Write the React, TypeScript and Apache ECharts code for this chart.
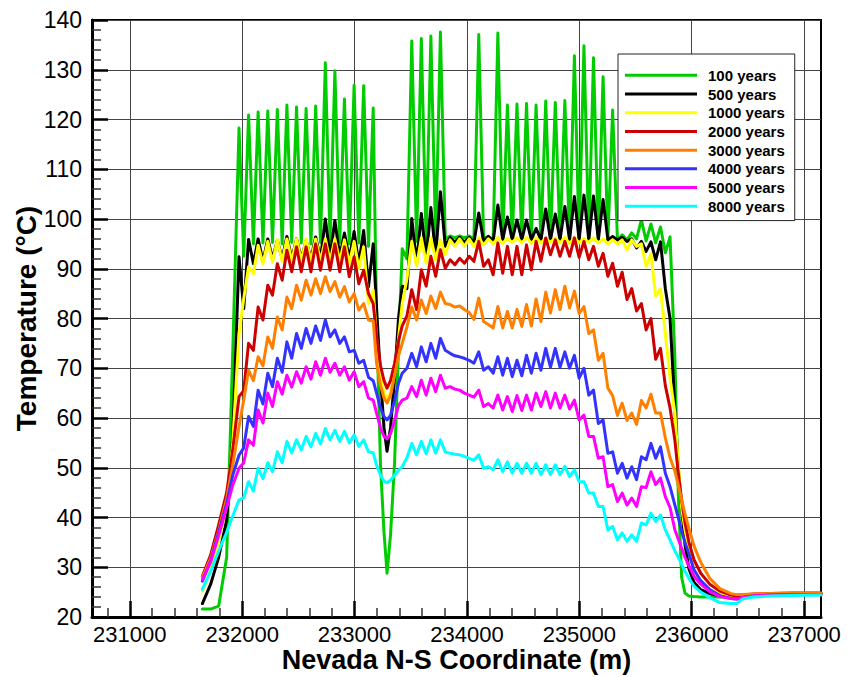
import { useEffect, useRef } from "react";
import * as echarts from "echarts";

const FONT = "'Liberation Sans', Arial, Helvetica, sans-serif";

// Nevada N-S coordinate (m) of each sample point
const coordinate = [
  231646, 231720, 231791, 231862, 231916,
  231972, 232014, 232057, 232100, 232142, 232185, 232228, 232270, 232313, 232356,
  232398, 232441, 232484, 232526, 232569, 232612, 232654, 232697, 232740, 232782,
  232825, 232868, 232910, 232953, 232996, 233038, 233081, 233124, 233166,
  233196, 233231, 233262, 233289, 233320, 233356, 233391,
  233424, 233466, 233509, 233552, 233594, 233637, 233679, 233722, 233764, 233807,
  233850, 233892, 233935, 233977, 234020, 234062, 234105, 234148, 234190, 234233,
  234275, 234318, 234360, 234403, 234445, 234488, 234530, 234573, 234615, 234658,
  234701, 234743, 234786, 234828, 234871, 234913, 234956, 234998, 235041, 235084,
  235126, 235169, 235211, 235254, 235296, 235339, 235381, 235424, 235466, 235509,
  235552, 235594, 235637, 235679, 235722, 235765, 235807,
  235850, 235880, 235910, 235940, 235975, 236020, 236080, 236160, 236250, 236350,
  236400, 236450, 236550, 236700, 236900, 237150,
];

const temp100 = [
  21.6, 21.6, 22.2, 32, 73,
  118.3, 92.5, 120.9, 95, 121.5, 95.2, 121.7, 95.3, 122, 95, 122.9, 95.3, 122.5, 95.2, 122.2,
  95, 122.7, 95.3, 131.4, 95.5, 129.8, 95.3, 124.1, 95, 126.9, 95.2, 126.8, 94.5, 122.3,
  80, 50.5, 37, 28.8, 36.5, 51, 74,
  94, 92, 135.8, 95.5, 136.3, 95.5, 136.8, 95.6, 137.6, 96, 96.6, 96.2, 96.6, 96.2, 96.6, 96,
  137.1, 96, 96.5, 95.8, 137.4, 95.8, 122.9, 95.8, 123.1, 95.8, 123.2, 95.8, 122.9, 95.8,
  123.7, 95.8, 123.4, 95.8, 123.8, 95.8, 132.8, 95.8, 134.8, 95.8, 132.4, 95.8, 128.6, 95.8,
  121.9, 95.8, 96.8, 95.8, 97.2, 96, 99.8, 95.6, 99, 95.2, 98.4, 93.2, 96.4,
  72, 45, 28, 24.8, 24.2, 24.1, 24.0, 24.0, 24.0, 24.0, 24.1, 24.2, 24.4, 24.5, 24.6, 24.7,
];

const temp500 = [
  22.7, 26.6, 32, 39.5, 56,
  92.4, 82, 95.9, 91, 96, 91.5, 96, 92, 95.7, 92, 96.5, 92, 96, 92, 95.7,
  92, 96.4, 92, 100, 92.5, 99.7, 92.5, 97.2, 92, 97.5, 91, 97.7, 86.4, 95,
  82, 68, 58, 53.3, 58, 68, 80,
  86.5, 86, 100.1, 91, 101.1, 92, 102.3, 92.5, 105.5, 94.5, 96.3, 95.3, 96.3, 95.3, 96.3, 95.3,
  101.2, 95.5, 96.5, 95.5, 102.8, 95.8, 100.4, 95.8, 99.8, 95.8, 99.8, 95.8, 98.1, 95.8,
  102, 95.8, 101, 95.8, 102.5, 95.8, 104.5, 95.8, 104.8, 95.8, 104.6, 95.8, 103.9, 95.8,
  96.5, 95.8, 96.3, 95.5, 96, 94.2, 95.5, 93.5, 95.4, 91.8, 95.4, 86, 80,
  62, 50, 42, 34.5, 29.7, 27, 25.5, 24.7, 24.2, 23.9, 23.9, 24.0, 24.3, 24.5, 24.6, 24.7,
];

const temp1000 = [
  25.2, 29.5, 35.3, 42.5, 55,
  77, 84, 90.4, 89, 94.7, 91, 95.5, 91.3, 95.8, 91.5, 96, 91.5, 96, 91.5, 96,
  91.5, 96, 91.5, 96, 91.5, 96, 91.5, 95.8, 91, 95.5, 90, 94.4, 83, 85.7,
  76, 68.5, 65, 64, 65, 69, 76,
  83, 88, 95.5, 90.5, 96.2, 91.1, 96.2, 91.8, 95.8, 92.8, 95.8, 94.5, 96, 94.5, 96, 94.5,
  96.2, 94.8, 96, 95, 96.3, 95.1, 96.1, 95.3, 96.2, 95.2, 96.3, 95.1, 96.2, 95.2,
  96.1, 95.3, 96.2, 95.2, 96.3, 95.1, 96.2, 95.2, 96.1, 95.3, 96.2, 95.2, 96, 95,
  95.8, 95, 95.8, 93.8, 95.8, 94.5, 95, 90.5, 93, 84.5, 86, 77, 68,
  61, 51, 42, 37.5, 33.5, 29.5, 27, 25.5, 24.8, 24.3, 24.1, 24.2, 24.4, 24.5, 24.6, 24.7,
];

const temp2000 = [
  28.2, 32.5, 38.5, 45, 53.5,
  64.3, 65.5, 75, 73.6, 82.3, 79.7, 86.7, 84.7, 91, 87.7, 93.7, 89.4, 94.4, 89.4, 94.4,
  89.4, 95, 89.7, 95, 89.7, 95, 89.4, 94.4, 88.4, 92.4, 87, 89.7, 85, 83,
  76.5, 70.5, 67.5, 66, 67.5, 71, 75.5,
  78.5, 80.5, 85.8, 81.8, 89.8, 86.5, 92.5, 88.5, 93.8, 90.1, 91.8, 90.8, 92.1, 91.1, 92.5, 91.5,
  95.5, 90.5, 91.8, 88.8, 95.2, 89.1, 94.5, 88.8, 94.5, 88.8, 94.8, 89.8, 95.5, 91.5,
  96.2, 92.8, 95.8, 92.5, 95.5, 92.5, 96.2, 92.3, 95.5, 91.8, 94.5, 90.5, 93.1, 88.5,
  91.1, 86.5, 89.3, 83.8, 86, 81.5, 83, 77.7, 80, 71.8, 74, 66.5, 62,
  55.5, 49, 43.5, 39, 35, 31.5, 28.8, 26.6, 25.2, 24.4, 24.2, 24.4, 24.6, 24.7, 24.8, 24.8,
];

const temp3000 = [
  27.9, 31.8, 37.3, 43.7, 50.5,
  58.3, 63.6, 69.6, 67.5, 72.3, 70.5, 76.3, 74, 80.3, 77.7, 84.3, 82, 86.7, 83.7, 87.7,
  84.7, 88, 85, 88.4, 85.4, 87.4, 84.3, 86.4, 83.3, 85, 81.7, 83, 79.7, 79.5,
  71, 66.5, 64, 63, 64.5, 68.5, 72.5,
  75, 78.3, 82.3, 79.7, 83.7, 81, 84.5, 82, 85.3, 83, 82.8, 82.3, 82.5, 81.8, 81.2, 79.8,
  84.1, 79.4, 78.8, 78.1, 82.4, 78.1, 81.4, 78.1, 81.8, 78.4, 82.8, 78.5, 83.9, 79.4,
  85.3, 81.1, 85.8, 81.8, 86.5, 82.1, 85.5, 81, 82.4, 77, 77.7, 71.6, 73, 66,
  64.5, 60.5, 63, 59.5, 61, 58.7, 63.5, 62, 64.8, 61, 61, 56, 52,
  49.3, 46.5, 43.6, 40.7, 37.8, 34.3, 31, 27.8, 25.7, 24.7, 24.5, 24.5, 24.6, 24.7, 24.8, 24.8,
];

const temp4000 = [
  27.2, 31.3, 37, 42.8, 48.5,
  52.5, 54, 60.3, 58.3, 65.6, 62.8, 69, 66.3, 72, 69.2, 75.3, 72, 77, 74, 78,
  75, 78.5, 75.6, 79.7, 76.3, 77.7, 75, 76.3, 73.3, 73.6, 71, 71.6, 68.2, 67.5,
  65, 62, 60.3, 59.6, 60.5, 63.5, 67,
  69, 70, 73, 70.3, 74.3, 71.3, 75, 72, 76, 73.6, 73, 72.5, 72.3, 72, 71.6, 71,
  73.3, 69.6, 70.3, 69, 72.3, 68.6, 72, 68.3, 71.6, 68.5, 72.6, 69, 73, 69.6,
  74, 70.2, 74, 70.2, 73.3, 70, 72.6, 68, 70, 64.6, 65.6, 58.9, 59.6, 52.9,
  53.2, 48.9, 50.9, 47.9, 50.2, 47.6, 52.2, 51.6, 54.9, 51.9, 54.2, 48.9, 46.2,
  42.5, 40, 37.2, 35, 32.7, 29.5, 27.3, 25.5, 24.3, 23.7, 23.6, 23.9, 24.2, 24.4, 24.5, 24.5,
];

const temp5000 = [
  27.5, 31.1, 36.4, 42, 46.5,
  49.9, 51, 55.6, 54.5, 61.6, 59, 65, 62.3, 67.3, 64.8, 68.6, 66.2, 69.3, 67, 70.3,
  67.8, 71.3, 68.6, 72, 69.2, 71, 68.6, 70.3, 67.6, 69.3, 66.3, 67.3, 64, 63.6,
  61, 58, 56.3, 55.8, 56.8, 59.5, 62.5,
  63.6, 64, 66.3, 64.3, 67.6, 64.6, 68, 65.3, 68.6, 66, 66.3, 65.8, 65.6, 65, 64.6, 64.2,
  65.6, 62.3, 62.9, 62, 64.6, 61.6, 64.3, 61.3, 64.5, 61.5, 64.6, 61.6, 65, 62.3,
  65.3, 62, 65, 62, 64.6, 61.8, 63.6, 59.6, 60.6, 56.3, 56.3, 51.9, 52.2, 46.2,
  46.6, 43.2, 44.9, 42.5, 43.9, 42.2, 46.2, 46, 49.2, 46.6, 47.9, 44.2, 42,
  37.5, 35.7, 33.8, 32, 30.3, 28.2, 26.6, 25.1, 24.1, 23.7, 23.6, 23.9, 24.2, 24.4, 24.5, 24.5,
];

const temp8000 = [
  25.6, 29.2, 33.3, 37, 40.3,
  43.5, 44, 47.2, 45.3, 49.9, 47.8, 51, 49.2, 53.2, 51, 55.3, 53, 55.6, 53.6, 56.3,
  54.2, 56.9, 54.8, 57.9, 55.6, 57.5, 55.3, 57.3, 55, 56.6, 54.3, 55.6, 53.2, 53,
  50.5, 48.5, 47.3, 47, 47.5, 48.5, 49.5,
  50.2, 52, 54.9, 52.6, 55.3, 52.8, 55.6, 52.9, 55.6, 53.2, 52.9, 52.7, 52.6, 52.3, 51.9, 51.5,
  52.6, 49.9, 50.2, 49.6, 51.6, 49.2, 51.2, 48.9, 50.9, 48.9, 50.9, 48.9, 50.9, 48.6,
  50.6, 48.6, 50.6, 48.6, 50.3, 48.2, 49.6, 47.2, 47.2, 44.9, 44.9, 42.2, 42.2, 37.5,
  38.2, 35.5, 36.9, 35.2, 36.5, 35.2, 38.9, 38.5, 40.9, 39.2, 40.5, 37.5, 35.5,
  33.3, 32, 30.6, 29.2, 27.8, 26.2, 25, 23.9, 22.9, 22.7, 22.7, 23.6, 24, 24.2, 24.3, 24.4,
];

const seriesNames = [
  "100 years", "500 years", "1000 years", "2000 years",
  "3000 years", "4000 years", "5000 years", "8000 years",
];
const seriesValues = [temp100, temp500, temp1000, temp2000, temp3000, temp4000, temp5000, temp8000];
const seriesColors = [
  "#00cc00", "#000000", "#ffff00", "#cc0000",
  "#ff8000", "#3333ff", "#ff00ff", "#00ffff",
];

const xMajorTicks = [231000, 232000, 233000, 234000, 235000, 236000, 237000];
const xMinorTicks = [
  230800, 231200, 231400, 231600, 231800, 232200, 232400, 232600, 232800,
  233200, 233400, 233600, 233800, 234200, 234400, 234600, 234800,
  235200, 235400, 235600, 235800, 236200, 236400, 236600, 236800,
];
const xMin = 230664;
const xMax = 237150;

export default function App() {
  const ref = useRef<HTMLDivElement>(null);

  useEffect(() => {
    if (!ref.current) return;
    const chart = echarts.init(ref.current, undefined, { renderer: "svg" });

    const series = seriesNames.map((name, k) => ({
      name,
      type: "line",
      xAxisIndex: 0,
      yAxisIndex: 0,
      showSymbol: false,
      symbol: "none",
      data: coordinate.map((x, i) => [x, seriesValues[k][i]]),
      lineStyle: { color: seriesColors[k], width: 3, join: "round", cap: "round" },
      itemStyle: { color: seriesColors[k] },
      emphasis: { disabled: true },
    }));

    chart.setOption({
      animation: false,
      grid: {
        left: 92,
        right: 28,
        top: 20,
        bottom: 60,
        containLabel: false,
        outerBoundsMode: "none",
        show: true,
        borderColor: "#000",
        borderWidth: 2,
        backgroundColor: "#fff",
      },
      legend: {
        orient: "vertical",
        left: 618,
        top: 54,
        backgroundColor: "#fff",
        borderColor: "#222",
        borderWidth: 1,
        padding: [12, 10, 5, 7],
        itemWidth: 72,
        itemHeight: 3,
        itemGap: 0,
        icon: "rect",
        selectedMode: false,
        textStyle: {
          fontSize: 15,
          fontWeight: "bold",
          color: "#000",
          fontFamily: FONT,
          lineHeight: 18.7,
          padding: [0, 0, 0, 6],
        },
        data: seriesNames,
      },
      xAxis: [
        {
          type: "value",
          min: xMin,
          max: xMax,
          position: "bottom",
          axisLine: { show: true, onZero: false, lineStyle: { color: "#000", width: 3 } },
          axisTick: {
            show: true,
            inside: true,
            length: 16,
            customValues: xMajorTicks,
            lineStyle: { color: "#000", width: 2.5 },
          },
          axisLabel: {
            customValues: xMajorTicks,
            fontSize: 22,
            lineHeight: 22,
            color: "#000",
            margin: 6,
            fontFamily: FONT,
            formatter: (v: number) => String(Math.round(v)),
          },
          splitLine: { show: true, lineStyle: { color: "#444", width: 1 } },
          name: "Nevada N-S Coordinate (m)",
          nameLocation: "middle",
          nameGap: 29,
          nameMoveOverlap: false,
          nameTextStyle: { fontSize: 27, fontWeight: "bold", color: "#000", fontFamily: FONT },
        },
        {
          type: "value",
          min: xMin,
          max: xMax,
          position: "bottom",
          axisLine: { show: false },
          axisTick: {
            show: true,
            inside: true,
            length: 9,
            customValues: xMinorTicks,
            lineStyle: { color: "#333", width: 1.5 },
          },
          axisLabel: { show: false },
          splitLine: { show: false },
        },
      ],
      yAxis: {
        type: "value",
        min: 20,
        max: 140,
        interval: 10,
        axisLine: { show: true, lineStyle: { color: "#000", width: 3 } },
        axisTick: { show: true, inside: true, length: 16, lineStyle: { color: "#000", width: 2.5 } },
        minorTick: { show: true, splitNumber: 5, length: 9, lineStyle: { color: "#333", width: 1.5 } },
        axisLabel: {
          fontSize: 23,
          color: "#000",
          margin: 10,
          fontFamily: FONT,
          formatter: (v: number) => String(v),
        },
        splitLine: { show: true, lineStyle: { color: "#444", width: 1 } },
        name: "Temperature (°C)",
        nameLocation: "middle",
        nameGap: 52,
        nameMoveOverlap: false,
        nameTextStyle: { fontSize: 28, fontWeight: "bold", color: "#000", fontFamily: FONT },
      },
      series,
    });

    return () => chart.dispose();
  }, []);

  return (
    <div
      ref={ref}
      style={{ position: "absolute", left: 0, top: 0, width: 849, height: 677, background: "#fff" }}
    />
  );
}
